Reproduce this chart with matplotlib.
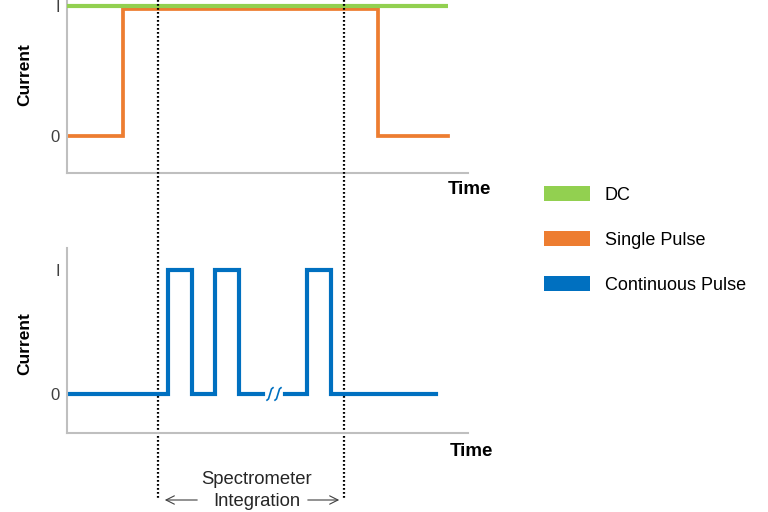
import matplotlib
matplotlib.use("Agg")
from matplotlib import pyplot as plt
from matplotlib.patches import Patch
import matplotlib.transforms as mtransforms

# time axis in arbitrary units, current as fraction of I
dc_t = [0, 381]
dc_i = [1.0, 1.0]

single_t = [0, 56, 56, 311, 311, 381]
single_i = [0, 0, 0.975, 0.975, 0, 0]

# continuous pulse, drawn as two pieces with a break between them
cont_t_a = [0, 101, 101, 125, 125, 148, 148, 172, 172, 196]
cont_i_a = [0, 0, 1, 1, 0, 0, 1, 1, 0, 0]
cont_t_b = [218, 240, 240, 264, 264, 369]
cont_i_b = [0, 0, 1, 1, 0, 0]

integ_start = 91
integ_end = 277

green = "#92D050"
orange = "#ED7D31"
blue = "#0070C0"
spine_col = "#BFBFBF"

plt.rcParams['font.family'] = ['Liberation Sans', 'DejaVu Sans']

fig = plt.figure(figsize=(7.68, 5.12), dpi=100)
ax1 = fig.add_axes([67/768, 1 - 173/512, 401/768, 173/512])
ax2 = fig.add_axes([67/768, 1 - 433/512, 401/768, 185/512])


def style_axes(ax, ylo, yhi):
    ax.set_xlim(0, 401)
    ax.set_ylim(ylo, yhi)
    for s in ["top", "right"]:
        ax.spines[s].set_visible(False)
    for s in ["left", "bottom"]:
        ax.spines[s].set_color(spine_col)
        ax.spines[s].set_linewidth(1.5)
    ax.set_xticks([])
    ax.set_yticks([0, 1])
    ax.set_yticklabels(["0", "I"], fontsize=12, color="#404040")
    ax.tick_params(axis="y", length=0, pad=5)
    ax.patch.set_alpha(0)


style_axes(ax1, -0.285, 1.046)
style_axes(ax2, -0.315, 1.177)

ax1.plot(dc_t, dc_i, color=green, lw=3, solid_capstyle="butt", zorder=3)
ax1.plot(single_t, single_i, color=orange, lw=2.7, solid_joinstyle="miter", zorder=2)

ax2.plot(cont_t_a, cont_i_a, color=blue, lw=3, solid_joinstyle="miter")
ax2.plot(cont_t_b, cont_i_b, color=blue, lw=3, solid_joinstyle="miter")
# break marks
for x0 in [200, 208]:
    ax2.plot([x0, x0 + 1.5, x0 + 3, x0 + 4.5, x0 + 6], [-0.05, -0.04, 0.0, 0.04, 0.05],
             color=blue, lw=1.2)

for ax, ymid in [(ax1, 0.47), (ax2, 0.41)]:
    trans = mtransforms.blended_transform_factory(ax.transAxes, ax.transData)
    ax.text(-0.105, ymid, "Current", rotation=90, ha="center", va="center",
            fontsize=12.5, fontweight="bold", transform=trans)

fig.text(469/768, 1 - 190/512, "Time", ha="center", va="center", fontsize=13.5, fontweight="bold")
fig.text(471/768, 1 - 452/512, "Time", ha="center", va="center", fontsize=13.5, fontweight="bold")

# integration window
vtrans = mtransforms.blended_transform_factory(ax1.transData, fig.transFigure)
for xv in [integ_start, integ_end]:
    ax1.plot([xv, xv], [1.0, 1 - 500/512], transform=vtrans, color="black",
             lw=1.6, ls=(0, (0.8, 1.0)), clip_on=False, zorder=5)

arrow_y = 1 - 500/512
ax1.annotate("", xy=(integ_start + 4, arrow_y), xytext=(integ_start + 42, arrow_y),
             xycoords=vtrans, textcoords=vtrans,
             arrowprops=dict(arrowstyle="->,head_length=0.6,head_width=0.3", color="#404040", lw=0.8),
             annotation_clip=False)
ax1.annotate("", xy=(integ_end - 2, arrow_y), xytext=(integ_end - 39, arrow_y),
             xycoords=vtrans, textcoords=vtrans,
             arrowprops=dict(arrowstyle="->,head_length=0.6,head_width=0.3", color="#404040", lw=0.8),
             annotation_clip=False)
fig.text(257/768, 1 - 480/512, "Spectrometer", ha="center", va="center", fontsize=13.3, color="#262626")
fig.text(257/768, 1 - 501/512, "Integration", ha="center", va="center", fontsize=13.3, color="#262626")

handles = [Patch(facecolor=green, edgecolor="none", label="DC"),
           Patch(facecolor=orange, edgecolor="none", label="Single Pulse"),
           Patch(facecolor=blue, edgecolor="none", label="Continuous Pulse")]
fig.legend(handles=handles, loc="upper left", bbox_to_anchor=(544/768, 1 - 186/512),
           frameon=False, fontsize=13, handlelength=2.54, handleheight=0.94,
           labelspacing=1.49, handletextpad=0.83, borderpad=0, borderaxespad=0)

fig.savefig("out.png", dpi=100)
